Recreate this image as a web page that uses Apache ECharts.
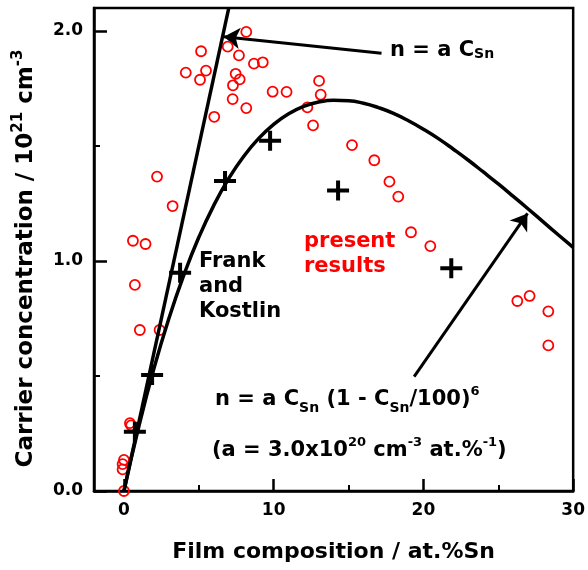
<!DOCTYPE html>
<html>
<head>
<meta charset="utf-8">
<script src="https://cdn.jsdelivr.net/npm/echarts@6/dist/echarts.min.js"></script>
<style>
  html, body { margin: 0; padding: 0; background: #fff; }
</style>
</head>
<body>
<div id="main" style="width: 588px;height:570px;"></div>
<script>
// present results (open red circles)
var circX = [8.17, 5.15, 6.93, 7.68, 4.13, 5.48, 5.08, 7.46, 7.73, 7.28, 8.68, 9.27, 7.26, 8.17, 9.93, 10.86, 6.03,
  2.21, 3.25, 0.60, 1.44, 0.73, 1.06, 2.38, 0.40, 0.48, 0, -0.09, -0.09, 0,
  13.03, 13.14, 12.25, 12.63, 15.23, 16.72, 17.73, 18.32, 19.17, 20.46, 26.27, 27.09, 28.34, 28.34];
var circY = [1.996, 1.912, 1.932, 1.894, 1.819, 1.828, 1.788, 1.814, 1.790, 1.764, 1.858, 1.864, 1.704, 1.665, 1.736, 1.735, 1.627,
  1.367, 1.239, 1.088, 1.074, 0.896, 0.700, 0.700, 0.295, 0.285, 0.135, 0.117, 0.094, 0,
  1.783, 1.723, 1.668, 1.590, 1.504, 1.438, 1.345, 1.280, 1.125, 1.065, 0.826, 0.848, 0.781, 0.633];

// Frank and Kostlin (crosses)
var fkX = [0.73, 1.88, 3.75, 6.75, 9.76, 14.3, 21.86];
var fkY = [0.258, 0.504, 0.949, 1.348, 1.523, 1.306, 0.968];

// n = a C line
var linX = [0, 7.0];
var linY = [0, 2.1];

// n = a C (1 - C/100)^6 curve
var curX = [0, 1, 2, 3, 4, 5, 6, 7, 8, 9, 10, 11, 12, 13, 14, 15, 16, 17, 18, 19, 20, 21, 22, 23, 24, 25, 26, 27, 28, 29, 30];
var curY = [0, 0.282, 0.532, 0.750, 0.939, 1.103, 1.242, 1.359, 1.455, 1.533, 1.594, 1.640, 1.672, 1.691, 1.699, 1.697,
  1.686, 1.667, 1.642, 1.610, 1.573, 1.532, 1.486, 1.438, 1.387, 1.335, 1.281, 1.226, 1.170, 1.114, 1.059];

// arrows: [from, to]
var arrow1 = [[17.2, 1.903], [6.67, 1.975]];
var arrow2 = [[19.38, 0.497], [26.95, 1.207]];

var xMajor = [0, 10, 20, 30];
var xMinor = [5, 15, 25];
var yMajor = [0, 1, 2];
var yMinor = [0.5, 1.5];

function zip(a, b) {
  var out = [];
  for (var i = 0; i < a.length; i++) out.push([a[i], b[i]]);
  return out;
}

var FONT = 'DejaVu Sans';
var sup = { fontSize: 13, fontWeight: 'bold', fontFamily: FONT, verticalAlign: 'top', lineHeight: 30, color: '#000' };
var sub = { fontSize: 14, fontWeight: 'bold', fontFamily: FONT, verticalAlign: 'bottom', lineHeight: 22, color: '#000' };
var txt = { fontSize: 21, fontWeight: 'bold', fontFamily: FONT, lineHeight: 26, color: '#000' };

var crossPath = 'path://M0,8 L22,8 L22,12 L0,12 Z M9,0 L13,0 L13,20 L9,20 Z';

var chart = echarts.init(document.getElementById('main'));
chart.setOption({
  animation: false,
  backgroundColor: '#fff',
  grid: {
    left: 94, right: 11, top: 8, bottom: 79,
    show: true, borderColor: '#000', borderWidth: 2.5
  },
  xAxis: [
    {
      type: 'value', min: -2, max: 30, position: 'bottom',
      splitLine: { show: false },
      axisLine: { onZero: false, lineStyle: { color: '#000', width: 2.5 } },
      axisTick: { inside: true, length: 12, customValues: xMajor, lineStyle: { color: '#000', width: 2.5 } },
      axisLabel: { customValues: xMajor, margin: 11, color: '#000', fontSize: 17, fontWeight: 'bold', fontFamily: FONT },
      name: 'Film composition / at.%Sn',
      nameLocation: 'middle', nameGap: 50,
      nameTextStyle: { color: '#000', fontSize: 22, fontWeight: 'bold', fontFamily: FONT }
    },
    {
      type: 'value', min: -2, max: 30, position: 'bottom',
      splitLine: { show: false },
      axisLine: { show: false, onZero: false },
      axisTick: { inside: true, length: 6, customValues: xMinor, lineStyle: { color: '#000', width: 2 } },
      axisLabel: { show: false }
    }
  ],
  yAxis: [
    {
      type: 'value', min: 0, max: 2.1, position: 'left',
      splitLine: { show: false },
      axisLine: { onZero: false, lineStyle: { color: '#000', width: 2.5 } },
      axisTick: { inside: true, length: 13, customValues: yMajor, lineStyle: { color: '#000', width: 2.5 } },
      axisLabel: {
        customValues: yMajor, margin: 11, color: '#000', fontSize: 17, fontWeight: 'bold', fontFamily: FONT,
        formatter: function (v) { return v.toFixed(1); }
      },
      name: 'Carrier concentration / 10{sup|21} cm{sup|-3}',
      nameLocation: 'middle', nameGap: 52, nameRotate: 90,
      nameTextStyle: {
        color: '#000', fontSize: 23, fontWeight: 'bold', fontFamily: FONT, padding: [0, 18, 0, 0],
        rich: { sup: { fontSize: 15, fontWeight: 'bold', fontFamily: FONT, verticalAlign: 'top', lineHeight: 31, color: '#000' } }
      }
    },
    {
      type: 'value', min: 0, max: 2.1, position: 'left',
      splitLine: { show: false },
      axisLine: { show: false, onZero: false },
      axisTick: { inside: true, length: 6, customValues: yMinor, lineStyle: { color: '#000', width: 2 } },
      axisLabel: { show: false }
    }
  ],
  series: [
    {
      type: 'line', data: zip(linX, linY), symbol: 'none', clip: true,
      lineStyle: { color: '#000', width: 3.5 }
    },
    {
      type: 'line', data: zip(curX, curY), symbol: 'none', smooth: true, clip: true,
      lineStyle: { color: '#000', width: 3.5 }
    },
    {
      type: 'scatter', data: zip(circX, circY), symbol: 'circle', symbolSize: 10,
      itemStyle: { color: 'rgba(255,255,255,0)', borderColor: '#ff0000', borderWidth: 1.8, opacity: 1 }
    },
    {
      type: 'scatter', data: zip(fkX, fkY), symbol: crossPath, symbolSize: [22, 20],
      itemStyle: { color: '#000', opacity: 1 }
    },
    {
      type: 'lines', coordinateSystem: 'cartesian2d',
      symbol: ['none', 'arrow'], symbolSize: [11, 16],
      lineStyle: { color: '#000', width: 3, opacity: 1 },
      data: [{ coords: arrow1 }, { coords: arrow2 }]
    }
  ],
  graphic: [
    {
      type: 'text', left: 390, top: 40,
      style: { text: 'n = a C{sub|Sn}', rich: { sub: sub }, font: 'bold 21px "DejaVu Sans"', fill: '#000' }
    },
    {
      type: 'text', left: 199, top: 249,
      style: { text: 'Frank\nand\nKostlin', font: 'bold 21px "DejaVu Sans"', lineHeight: 25, fill: '#000' }
    },
    {
      type: 'text', left: 304, top: 229,
      style: { text: 'present\nresults', font: 'bold 21px "DejaVu Sans"', lineHeight: 25, fill: '#ff0000' }
    },
    {
      type: 'text', left: 215, top: 385,
      style: {
        text: '{t|n = a C}{sub|Sn}{t| (1 - C}{sub|Sn}{t|/100)}{sup|6}',
        rich: { t: txt, sub: sub, sup: sup }
      }
    },
    {
      type: 'text', left: 212, top: 436,
      style: {
        text: '{t|(a = 3.0x10}{sup|20}{t| cm}{sup|-3}{t| at.%}{sup|-1}{t|)}',
        rich: { t: txt, sup: sup }
      }
    }
  ]
});
</script>
</body>
</html>
